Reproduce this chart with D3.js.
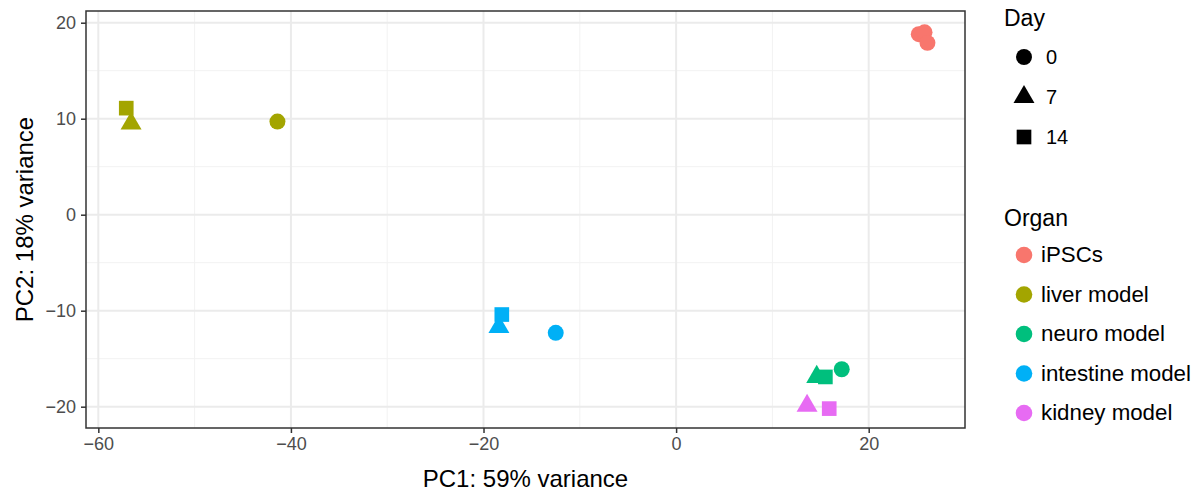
<!DOCTYPE html>
<html lang="en">
<head>
  <meta charset="UTF-8" />
  <title>PCA plot</title>
  <script src="https://d3js.org/d3.v7.min.js"></script>
  <style>
    body { margin: 0; background: #fff; }
    svg text { font-family: "Liberation Sans", Arial, sans-serif; }
  </style>
</head>
<body>
  <script>
    // data
    const organs = ['iPSCs', 'liver model', 'neuro model', 'intestine model', 'kidney model'];
    const organColors = ['#F8766D', '#A3A500', '#00BF7D', '#00B0F6', '#E76BF3'];
    const days = ['0', '7', '14'];
    const pc1 = [25.2, 25.8, 26.1, -41.4, -56.6, -57.1, 17.2, 14.6, 15.5, -12.5, -18.4, -18.1, 13.6, 15.9];
    const pc2 = [18.8, 19.0, 17.9, 9.7, 9.5, 11.1, -16.1, -16.9, -16.9, -12.3, -11.7, -10.4, -19.9, -20.2];
    const sampleOrgan = ['iPSCs', 'iPSCs', 'iPSCs', 'liver model', 'liver model', 'liver model',
      'neuro model', 'neuro model', 'neuro model', 'intestine model', 'intestine model', 'intestine model',
      'kidney model', 'kidney model'];
    const sampleDay = ['0', '0', '0', '0', '7', '14', '0', '7', '14', '0', '7', '14', '7', '14'];
    const xTicks = [-60, -40, -20, 0, 20];
    const yTicks = [-20, -10, 0, 10, 20];
    const xMinor = [-50, -30, -10, 10];
    const yMinor = [-15, -5, 5, 15];

    const width = 1203, height = 495;
    const panel = { left: 86, right: 965, top: 11, bottom: 428 };

    const svg = d3.select('body').append('svg')
      .attr('width', width)
      .attr('height', height);

    const x = d3.scaleLinear().domain([-61.28, 30.0]).range([panel.left, panel.right]);
    const y = d3.scaleLinear().domain([-22.22, 21.22]).range([panel.bottom, panel.top]);
    const color = d3.scaleOrdinal().domain(organs).range(organColors);
    const shape = d3.scaleOrdinal().domain(days).range([d3.symbolCircle, d3.symbolTriangle, d3.symbolSquare]);
    const sizes = { '0': 200, '7': 190, '14': 215 };
    const symbol = d => d3.symbol().type(shape(d)).size(sizes[d])();

    // grid
    const grid = svg.append('g');
    grid.selectAll('.xminor').data(xMinor).join('line')
      .attr('x1', d => x(d)).attr('x2', d => x(d))
      .attr('y1', panel.top).attr('y2', panel.bottom)
      .attr('stroke', '#F2F2F2').attr('stroke-width', 1);
    grid.selectAll('.yminor').data(yMinor).join('line')
      .attr('y1', d => y(d)).attr('y2', d => y(d))
      .attr('x1', panel.left).attr('x2', panel.right)
      .attr('stroke', '#F2F2F2').attr('stroke-width', 1);
    grid.selectAll('.xmajor').data(xTicks).join('line')
      .attr('x1', d => x(d)).attr('x2', d => x(d))
      .attr('y1', panel.top).attr('y2', panel.bottom)
      .attr('stroke', '#EBEBEB').attr('stroke-width', 2);
    grid.selectAll('.ymajor').data(yTicks).join('line')
      .attr('y1', d => y(d)).attr('y2', d => y(d))
      .attr('x1', panel.left).attr('x2', panel.right)
      .attr('stroke', '#EBEBEB').attr('stroke-width', 2);

    // points
    svg.append('g').selectAll('path')
      .data(pc1.map((v, i) => ({ x: v, y: pc2[i], organ: sampleOrgan[i], day: sampleDay[i] })))
      .join('path')
      .attr('transform', d => `translate(${x(d.x)},${y(d.y)})`)
      .attr('d', d => symbol(d.day))
      .attr('fill', d => color(d.organ));

    // border
    svg.append('rect')
      .attr('x', panel.left).attr('y', panel.top)
      .attr('width', panel.right - panel.left).attr('height', panel.bottom - panel.top)
      .attr('fill', 'none').attr('stroke', '#333').attr('stroke-width', 1.5);

    // axes
    const xAxis = svg.append('g')
      .attr('transform', `translate(0,${panel.bottom})`)
      .call(d3.axisBottom(x).tickValues(xTicks).tickSize(5).tickPadding(4).tickFormat(d3.format('d')));
    const yAxis = svg.append('g')
      .attr('transform', `translate(${panel.left},0)`)
      .call(d3.axisLeft(y).tickValues(yTicks).tickSize(5).tickPadding(5).tickFormat(d3.format('d')));
    [xAxis, yAxis].forEach(a => {
      a.select('.domain').remove();
      a.selectAll('.tick line').attr('stroke', '#333').attr('stroke-width', 1.5);
      a.selectAll('.tick text').attr('fill', '#4D4D4D').style('font-size', '18px');
    });

    svg.append('text')
      .attr('x', (panel.left + panel.right) / 2).attr('y', 487)
      .attr('text-anchor', 'middle').style('font-size', '24px')
      .text('PC1: 59% variance');
    svg.append('text')
      .attr('transform', `translate(33,${(panel.top + panel.bottom) / 2}) rotate(-90)`)
      .attr('text-anchor', 'middle').style('font-size', '24px')
      .text('PC2: 18% variance');

    // legends
    const legend = svg.append('g');
    legend.append('text').attr('x', 1004).attr('y', 26).style('font-size', '23px').text('Day');
    const dayRows = legend.selectAll('.day').data(days).join('g')
      .attr('transform', (d, i) => `translate(1024,${57 + i * 40})`);
    dayRows.append('path').attr('d', d => symbol(d)).attr('fill', '#000');
    dayRows.append('text').attr('x', 22).attr('y', 7).style('font-size', '20px').text(d => d);

    legend.append('text').attr('x', 1004).attr('y', 226).style('font-size', '23px').text('Organ');
    const orgRows = legend.selectAll('.org').data(organs).join('g')
      .attr('transform', (d, i) => `translate(1024,${255 + i * 39.5})`);
    orgRows.append('circle').attr('r', 8.3).attr('fill', d => color(d));
    orgRows.append('text').attr('x', 17).attr('y', 7).style('font-size', '22.3px').text(d => d);
  </script>
</body>
</html>
